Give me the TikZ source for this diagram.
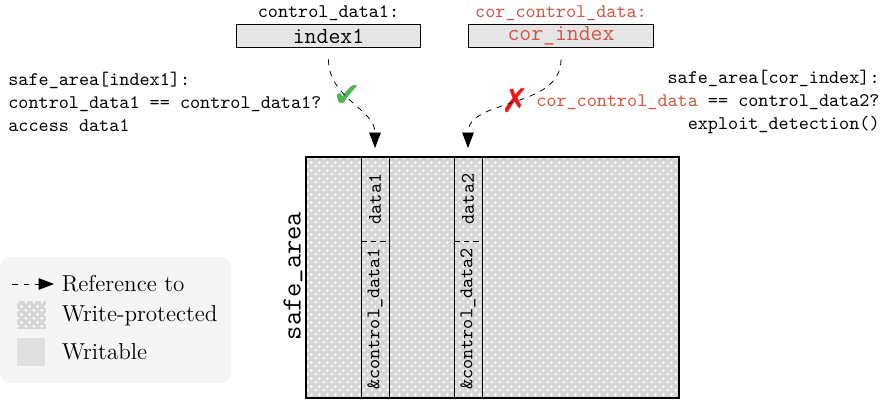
\documentclass[tikz,border=0pt]{standalone}
\usepackage{fontspec}
\newfontfamily\symfont{DejaVu Sans}
\usetikzlibrary{arrows.meta,patterns,positioning}
\definecolor{corred}{RGB}{214,84,64}
\definecolor{okgreen}{RGB}{80,180,84}
\definecolor{badred}{RGB}{240,20,20}
\newcommand{\us}{\string_}
\pgfdeclarepatternformonly{safedots}{\pgfqpoint{0pt}{0pt}}{\pgfqpoint{4.2pt}{4.2pt}}{\pgfqpoint{4.2pt}{4.2pt}}{
  \pgfpathcircle{\pgfqpoint{1.05pt}{1.05pt}}{0.85pt}
  \pgfpathcircle{\pgfqpoint{3.15pt}{3.15pt}}{0.85pt}
  \pgfusepath{fill}}

\begin{document}
\begin{tikzpicture}[x=0.52pt,y=0.52pt,
    ptr/.style={dashed, -{Triangle[length=8pt,width=6pt]}},
    regbox/.style={draw, fill=gray!20, minimum width=96pt, minimum height=12pt, inner sep=0pt, font=\ttfamily\large},
    protected/.style={preaction={fill=gray!32}, pattern=safedots, pattern color=white},
    cell/.style={rotate=90, font=\ttfamily}]
    \tikzstyle{every node}=[font=\ttfamily]
    \useasboundingbox (0,0) rectangle (884,-400);

      % registers
      \node[regbox] (1) at (328.5,-36) {index1};
      \node[regbox] (2) at (561,-36) {\textcolor{corred}{cor\us index}};
      \node[] (l1) [above=1.5pt of 1, inner sep=0pt] {control\us data1:};
      \node[] (l2) [above=1.5pt of 2, inner sep=0pt] {\textcolor{corred}{cor\us control\us data:}};

      % checks
      \node[anchor=west, align=left, inner sep=0pt] (3) at (8,-102) {safe\us area[index1]:\\control\us data1 == control\us data1?\\access data1};
      \node[anchor=east, align=right, inner sep=0pt] (4) at (880,-102) {safe\us area[cor\us index]:\\\textcolor{corred}{cor\us control\us data} == control\us data2?\\exploit\us detection()};
      \node[text=okgreen, font=\symfont\LARGE] (ok) at (347,-96) {✔};
      \node[text=badred, font=\symfont\LARGE] (bad) at (515,-100) {✗};

      % safe area
      \path[protected] (306,-157) rectangle (679,-398);
      \draw (361,-157) -- (361,-398) (389,-157) -- (389,-398)
            (454,-157) -- (454,-398) (482,-157) -- (482,-398);
      \draw[densely dashed] (361,-241) -- (389,-241) (454,-241) -- (482,-241);
      \draw[thick] (306,-157) rectangle (679,-398);
      \node[cell] (5) at (375,-199) {data1};
      \node[cell] (6) at (375,-319) {\&control\us data1};
      \node[cell] (7) at (468,-199) {data2};
      \node[cell] (8) at (468,-319) {\&control\us data2};
      \node[rotate=90, font=\ttfamily\Large] (9) at (293,-276) {safe\raisebox{2pt}{\us}area};

      \coordinate (t1) at (375,-148);
      \coordinate (t2) at (468,-148);
      \draw[ptr] ([yshift=-6pt]1.south) to[out=-90, in=90] (t1);
      \draw[ptr] ([yshift=-6pt]2.south) to[out=-90, in=90] (t2);

      % legend
      \fill[gray!8, rounded corners=5pt] (0,-257) rectangle (231,-383);
      \coordinate (a1) at (12,-284);
      \coordinate (a2) at (54,-284);
      \draw[ptr] (a1) -- (a2);
      \path[protected] (17,-301) rectangle (46,-329);
      \fill[gray!25] (17,-338) rectangle (45,-366);
      \path[every node/.style={font=\rmfamily\large, anchor=west}]
        (55,-284) node (10) {Reference to}
        (55,-316) node (11) {Write-protected}
        (55,-352) node (12) {Writable};

\end{tikzpicture}
\end{document}
